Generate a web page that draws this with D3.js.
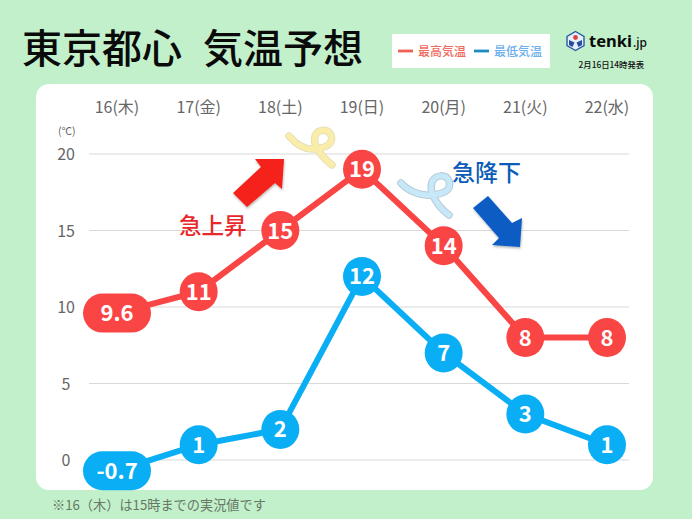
<!DOCTYPE html>
<html><head><meta charset="utf-8">
<script src="https://cdn.jsdelivr.net/npm/d3@7"></script>
<style>html,body{margin:0;padding:0;background:#c2f0ca;overflow:hidden}svg{display:block}text{font-family:"Noto Sans CJK JP","Noto Sans",sans-serif}</style>
</head><body><svg id="c" width="692" height="519"></svg>
<script>
const days=["16(木)","17(金)","18(土)","19(日)","20(月)","21(火)","22(水)"];
const highs=[9.6,11,15,19,14,8,8];
const lows=[-0.7,1,2,12,7,3,1];
const yTicks=[0,5,10,15,20];
const highColor="#fa4545", lowColor="#0aaef5";
const svg=d3.select("#c");
const x=d3.scalePoint().domain(days).range([117,607]);
const y=d3.scaleLinear().domain([0,20]).range([460,154]);

const defs=svg.append("defs");
const f=defs.append("filter").attr("id","sh").attr("x","-20%").attr("y","-20%").attr("width","150%").attr("height","150%");
f.append("feDropShadow").attr("dx",0.5).attr("dy",1.5).attr("stdDeviation",1.2).attr("flood-color","#000").attr("flood-opacity",0.3);

svg.append("rect").attr("width",692).attr("height",519).attr("fill","#c2f0ca");
[["東京都心",22],["気温予想",203]].forEach(([t,tx])=>{
  svg.append("text").attr("x",tx).attr("y",63).attr("font-size",40).attr("font-weight",500).attr("fill","#0a0a0a").text(t);
});

// legend
const lg=svg.append("g");
lg.append("rect").attr("x",392).attr("y",34).attr("width",158).attr("height",34).attr("fill","#fff");
[[398,"#ee6050","#ee6a60","最高気温",418],[474,"#1a8cc0","#6cb0ec","最低気温",494]].forEach(([lx,c,tc,t,tx])=>{
  lg.append("line").attr("x1",lx).attr("x2",lx+15).attr("y1",51).attr("y2",51).attr("stroke",c).attr("stroke-width",2.8);
  lg.append("text").attr("x",tx).attr("y",56).attr("font-size",12).attr("font-weight",500).attr("fill",tc).text(t);
});

// logo
const logo=svg.append("g").attr("transform","translate(575.5,41)");
logo.append("path").attr("d","M0,-9.5 L8.5,-4.7 L8.5,4.7 L0,9.5 L-8.5,4.7 L-8.5,-4.7Z").attr("fill","#e4f0fa").attr("stroke","#2a5aa8").attr("stroke-width",1.4);
logo.append("circle").attr("cy",-3.5).attr("r",2.4).attr("fill","#e04040");
logo.append("path").attr("d","M-6.5,-1 L-1,1.5 L-3,6 L-6.5,4Z M6.5,-1 L1,1.5 L3,6 L6.5,4Z").attr("fill","#2a4a9c");
svg.append("text").attr("x",589).attr("y",47).attr("font-size",16.5).attr("font-weight",700).style("font-family","'Noto Sans'").attr("fill","#0a0a0a").text("tenki");
svg.append("text").attr("x",633).attr("y",47).attr("font-size",12).attr("font-weight",500).style("font-family","'Noto Sans'").attr("fill","#0a0a0a").text(".jp");
svg.append("text").attr("x",578.5).attr("y",68).attr("font-size",8.4).attr("font-weight",500).attr("fill","#111").text("2月16日14時発表");

// panel
svg.append("rect").attr("x",36).attr("y",84).attr("width",617).attr("height",406).attr("rx",13).attr("fill","#fff");

// grid & axes
svg.append("g").selectAll("line").data(yTicks).join("line")
  .attr("x1",89).attr("x2",629).attr("y1",d=>y(d)).attr("y2",d=>y(d)).attr("stroke","#d9d9d9").attr("stroke-width",1.2);
svg.append("g").selectAll("text").data(yTicks).join("text")
  .attr("x",d=>d>=10?75:70.5).attr("y",d=>y(d)+6).attr("text-anchor","end")
  .attr("font-size",16).attr("fill","#666").text(d=>d);
svg.append("text").attr("x",58).attr("y",135).attr("font-size",10.5).attr("fill","#666").text("(℃)");
svg.append("g").selectAll("text").data(days).join("text")
  .attr("x",d=>x(d)).attr("y",113).attr("text-anchor","middle").attr("font-size",16).attr("fill","#666").text(d=>d);

// ribbons
function ribbon(d,fill,edge){
  svg.append("path").attr("d",d).attr("fill","none").attr("stroke",edge).attr("stroke-width",7.5).attr("stroke-linecap","round");
  svg.append("path").attr("d",d).attr("fill","none").attr("stroke",fill).attr("stroke-width",5.5).attr("stroke-linecap","round");
}
ribbon("M289,136 C295,143 304,150 314,149 C326,148 334,144 331,135 C328,128 318,129 315,136 C312,145 322,157 332,165","#faedaa","#e6e0b8");
ribbon("M401,183 C408,191 420,196 431,195 C444,194 452,190 449,181 C446,174 436,174 432,182 C428,192 438,207 449,215","#c6e8f8","#b6cad6");

// arrows
svg.append("path").attr("d","M233,193 L261,167 L255,159 L284,159 L282,189 L275,183 L247,207Z").attr("fill","#f5211c").attr("filter","url(#sh)");
svg.append("path").attr("d","M473,208 L488,196 L512,223 L522,218 L520,247 L492,245 L499,238Z").attr("fill","#0a5cc4").attr("filter","url(#sh)");
svg.append("text").attr("x",179).attr("y",234).attr("font-size",22.5).attr("font-weight",500).attr("fill","#e8282a").text("急上昇");
svg.append("text").attr("x",452).attr("y",181).attr("font-size",23).attr("font-weight",500).attr("fill","#0a5cb8").text("急降下");

// series
function series(vals,color){
  const pts=vals.map((v,i)=>[x(days[i]),y(v),v]);
  svg.append("path").attr("d",d3.line()(pts.map(p=>[p[0],p[1]]))).attr("fill","none").attr("stroke",color).attr("stroke-width",6);
  const g=svg.append("g").selectAll("g").data(pts).join("g").attr("transform",d=>`translate(${d[0]},${d[1]})`);
  g.append("rect").attr("x",d=>Number.isInteger(d[2])?-19:-34).attr("y",-19.5)
    .attr("width",d=>Number.isInteger(d[2])?38:68).attr("height",39).attr("rx",19.5).attr("fill",color);
  g.append("text").attr("text-anchor","middle").attr("y",8).attr("font-size",22).attr("font-weight",700).attr("fill","#fff").text(d=>d[2]);
}
series(highs,highColor);
series(lows,lowColor);

svg.append("text").attr("x",52).attr("y",510).attr("font-size",13.2).attr("fill","#667766").text("※16（木）は15時までの実況値です");
</script></body></html>
